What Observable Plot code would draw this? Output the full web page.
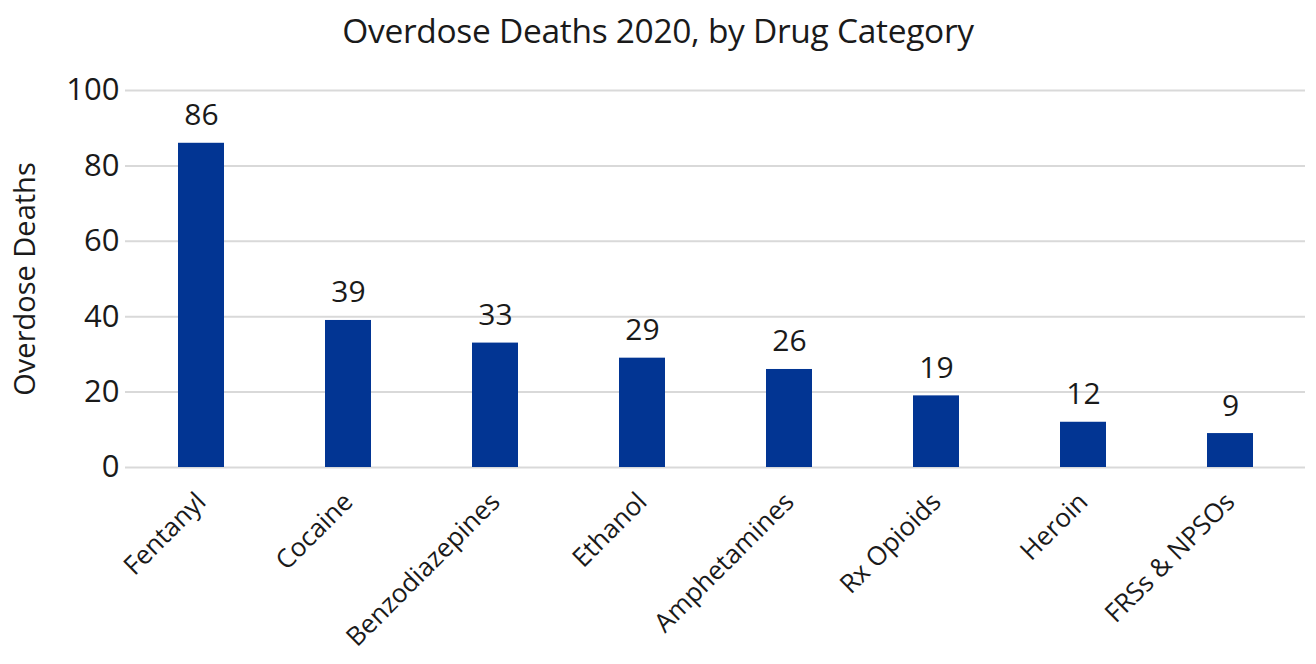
<!DOCTYPE html>
<html><head><meta charset="utf-8">
<script src="https://cdn.jsdelivr.net/npm/d3@7"></script>
<script src="https://cdn.jsdelivr.net/npm/@observablehq/plot@0.6"></script>
<style>
body{margin:0;background:#fff;font-family:"Open Sans",sans-serif;}
#title{height:60px;line-height:60px;text-align:center;font-size:33.5px;color:#1a1a1a;letter-spacing:-0.3px;}
</style></head>
<body>
<div id="title">Overdose Deaths 2020, by Drug Category</div>
<div id="chart"></div>
<script>
const categories = ["Fentanyl","Cocaine","Benzodiazepines","Ethanol","Amphetamines","Rx Opioids","Heroin","FRSs & NPSOs"];
const deaths = [86,39,33,29,26,19,12,9];
const yTicks = [0,20,40,60,80,100];

const data = categories.map((c,i)=>({category:c, value:deaths[i]}));

const plot = Plot.plot({
  width:1316, height:604,
  marginLeft:125, marginRight:11, marginTop:30, marginBottom:197,
  style:{fontFamily:"'Open Sans',sans-serif", color:"#1a1a1a", background:"#fff"},
  x:{domain:categories, paddingInner:0.69, paddingOuter:0.345, label:null},
  y:{domain:[0,100], ticks:yTicks, label:"Overdose Deaths"},
  marks:[
    Plot.gridY(yTicks,{stroke:"#d9d9d9", strokeOpacity:1, strokeWidth:2}),
    Plot.barY(data,{x:"category", y:"value", fill:"#023593"}),
    Plot.text(data,{x:"category", y:"value", text:d=>String(d.value), lineAnchor:"bottom", dy:-18, fontSize:30, fill:"#1a1a1a"}),
    Plot.axisY({ticks:yTicks, tickSize:0, tickPadding:6, fontSize:31, label:null}),
    Plot.text(["Overdose Deaths"],{frameAnchor:"left", dx:-100, rotate:-90, textAnchor:"middle", fontSize:29, fill:"#1a1a1a"}),
    Plot.axisX({tickSize:0, tickRotate:-45, tickPadding:30, fontSize:26, label:null})
  ]
});
document.getElementById("chart").appendChild(plot);
</script>
</body></html>
